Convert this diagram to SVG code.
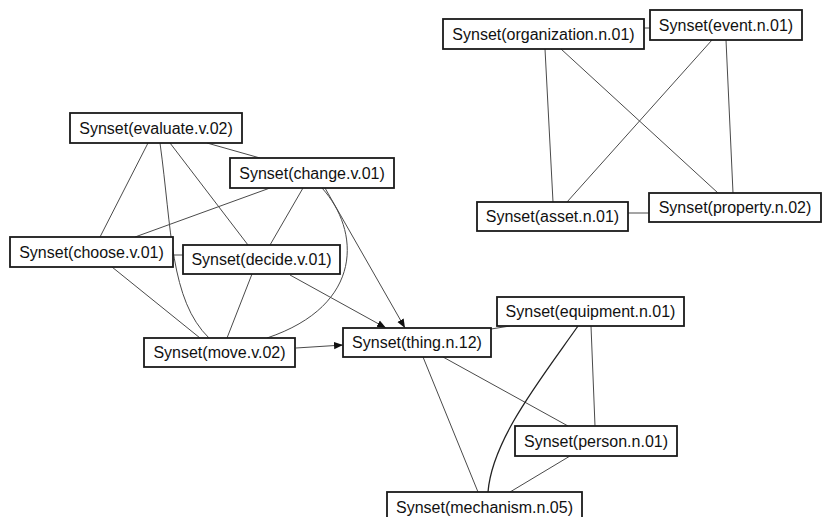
<svg xmlns="http://www.w3.org/2000/svg" width="824" height="517" viewBox="0 0 824 517">
<defs>
<style>
.n rect{fill:#fff;stroke:#1a1a1a;stroke-width:1.8}
.n text{font-family:"Liberation Sans",Arial,sans-serif;font-size:16px;fill:#111;text-anchor:middle}
#edges path,#edges line{fill:none;stroke:#4a4a4a;stroke-width:1}
</style>
<marker id="ah" viewBox="0 0 10 10" refX="10" refY="5" markerWidth="9" markerHeight="9" markerUnits="userSpaceOnUse" orient="auto">
<path d="M0,1 L10,5 L0,9 Z" fill="#111"/>
</marker>
</defs>
<rect width="824" height="517" fill="#fff"/>
<g id="edges">
<line x1="644" y1="28" x2="650" y2="28"/>
<line x1="545" y1="49" x2="553" y2="202"/>
<line x1="561" y1="49" x2="718" y2="193"/>
<line x1="712" y1="40" x2="567" y2="202"/>
<line x1="726" y1="40" x2="733" y2="193"/>
<line x1="628" y1="213" x2="649" y2="213"/>
<line x1="207" y1="143" x2="260" y2="158"/>
<line x1="148" y1="143" x2="100" y2="237"/>
<path d="M160,143 C172,230 170,300 209,338"/>
<line x1="170" y1="143" x2="248" y2="245"/>
<line x1="270" y1="188" x2="135" y2="237"/>
<line x1="303" y1="188" x2="270" y2="245"/>
<path d="M322,188 C360,230 365,305 267,338"/>
<line x1="325" y1="188" x2="405" y2="328" marker-end="url(#ah)"/>
<line x1="290" y1="275" x2="386" y2="328" marker-end="url(#ah)"/>
<line x1="173" y1="255" x2="183" y2="255"/>
<line x1="112" y1="267" x2="200" y2="338"/>
<line x1="252" y1="274" x2="227" y2="338"/>
<line x1="296" y1="348" x2="343" y2="345" marker-end="url(#ah)"/>
<line x1="491" y1="329" x2="510" y2="326"/>
<line x1="443" y1="357" x2="568" y2="426"/>
<line x1="423" y1="357" x2="478" y2="492"/>
<path d="M578,326 C540,380 492,440 488,492" style="stroke:#222;stroke-width:1.3"/>
<line x1="591" y1="326" x2="595" y2="426"/>
<line x1="570" y1="456" x2="510" y2="492"/>
</g>
<g id="n-organization" class="n"><rect x="443" y="19" width="201" height="30"/><text x="543.5" y="40">Synset(organization.n.01)</text></g>
<g id="n-event" class="n"><rect x="650" y="10" width="152" height="30"/><text x="726" y="31">Synset(event.n.01)</text></g>
<g id="n-asset" class="n"><rect x="477" y="202" width="151" height="29"/><text x="552.5" y="222">Synset(asset.n.01)</text></g>
<g id="n-property" class="n"><rect x="649" y="193" width="172" height="29"/><text x="735" y="213">Synset(property.n.02)</text></g>
<g id="n-evaluate" class="n"><rect x="70" y="113" width="172" height="30"/><text x="156" y="134">Synset(evaluate.v.02)</text></g>
<g id="n-change" class="n"><rect x="230" y="158" width="164" height="30"/><text x="312" y="179">Synset(change.v.01)</text></g>
<g id="n-choose" class="n"><rect x="10" y="237" width="163" height="30"/><text x="91.5" y="258">Synset(choose.v.01)</text></g>
<g id="n-decide" class="n"><rect x="183" y="245" width="157" height="29"/><text x="261.5" y="265">Synset(decide.v.01)</text></g>
<g id="n-move" class="n"><rect x="144" y="338" width="151" height="29"/><text x="219.5" y="358">Synset(move.v.02)</text></g>
<g id="n-thing" class="n"><rect x="343" y="328" width="148" height="29"/><text x="417" y="348">Synset(thing.n.12)</text></g>
<g id="n-equipment" class="n"><rect x="497" y="297" width="187" height="29"/><text x="590.5" y="317">Synset(equipment.n.01)</text></g>
<g id="n-person" class="n"><rect x="515" y="426" width="162" height="30"/><text x="596" y="447">Synset(person.n.01)</text></g>
<g id="n-mechanism" class="n"><rect x="387" y="492" width="195" height="30"/><text x="484.5" y="513">Synset(mechanism.n.05)</text></g>
</svg>
